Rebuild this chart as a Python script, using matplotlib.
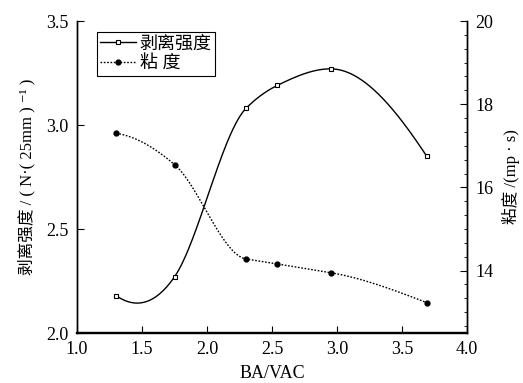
import numpy as np
import matplotlib
matplotlib.use("Agg")
import matplotlib.pyplot as plt
from matplotlib.ticker import MultipleLocator
from matplotlib.lines import Line2D

# ---- data ----
ratio = [1.30, 1.75, 2.30, 2.54, 2.95, 3.69]
peel_strength = [2.18, 2.27, 3.08, 3.19, 3.27, 2.85]
viscosity = [17.30, 16.55, 14.28, 14.16, 13.95, 13.23]
x_ticks = [1.0, 1.5, 2.0, 2.5, 3.0, 3.5, 4.0]
left_ticks = [2.0, 2.5, 3.0, 3.5]
right_ticks = [14, 16, 18, 20]

FONT = ['Liberation Serif', 'Noto Sans CJK SC', 'DejaVu Serif']
plt.rcParams['font.family'] = FONT
plt.rcParams['axes.unicode_minus'] = False


def akima(x, y, n=400):
    x = np.asarray(x, float)
    y = np.asarray(y, float)
    k = len(x)
    h = np.diff(x)
    m = np.diff(y) / h
    # extend slopes at both ends
    mm = np.empty(k + 3)
    mm[2:k + 1] = m
    mm[1] = 2 * mm[2] - mm[3]
    mm[0] = 2 * mm[1] - mm[2]
    mm[k + 1] = 2 * mm[k] - mm[k - 1]
    mm[k + 2] = 2 * mm[k + 1] - mm[k]
    t = np.empty(k)
    for i in range(k):
        w1 = abs(mm[i + 3] - mm[i + 2])
        w2 = abs(mm[i + 1] - mm[i])
        if w1 + w2 == 0:
            t[i] = 0.5 * (mm[i + 1] + mm[i + 2])
        else:
            t[i] = (w1 * mm[i + 1] + w2 * mm[i + 2]) / (w1 + w2)
    xs = np.linspace(x[0], x[-1], n)
    ys = np.empty_like(xs)
    for j, xv in enumerate(xs):
        i = int(np.clip(np.searchsorted(x, xv, side='right') - 1, 0, k - 2))
        hh = h[i]
        s = (xv - x[i]) / hh
        h00 = 2 * s ** 3 - 3 * s ** 2 + 1
        h10 = s ** 3 - 2 * s ** 2 + s
        h01 = -2 * s ** 3 + 3 * s ** 2
        h11 = s ** 3 - s ** 2
        ys[j] = h00 * y[i] + h10 * hh * t[i] + h01 * y[i + 1] + h11 * hh * t[i + 1]
    return xs, ys


fig = plt.figure(figsize=(5.23, 3.83), dpi=100)
ax = fig.add_axes([77 / 523, 1 - 333 / 383, 390 / 523, 312 / 383])
ax2 = ax.twinx()

# peel strength
xs, ys = akima(ratio, peel_strength)
ax.plot(xs, ys, color='black', lw=1.0, ls='-')
ax.plot(ratio, peel_strength, ls='none', marker='s', ms=3.5, mfc='white',
        mec='black', mew=0.8)

# viscosity
xs2, ys2 = akima(ratio, viscosity)
ax2.plot(xs2, ys2, color='black', lw=1.0, ls=(0, (1.2, 1.2)))
ax2.plot(ratio, viscosity, ls='none', marker='o', ms=3.5, mfc='black',
         mec='black')

ax.set_xlim(1.0, 4.0)
ax.set_ylim(2.0, 3.5)
ax2.set_ylim(12.5, 20.0)
ax.set_xticks(x_ticks)
ax.set_yticks(left_ticks)
ax2.set_yticks(right_ticks)
ax2.yaxis.set_minor_locator(MultipleLocator(1 / 3))

for a in (ax, ax2):
    a.spines['top'].set_visible(False)
    for s in a.spines.values():
        s.set_linewidth(1.0)
ax.spines['bottom'].set_linewidth(1.6)
ax2.spines['bottom'].set_linewidth(1.6)

ax.tick_params(axis='both', direction='in', length=5, width=0.8,
               labelsize=13, pad=6)
ax.tick_params(axis='y', right=False)
ax2.tick_params(axis='y', which='major', direction='in', length=5, width=0.8,
                labelsize=13, pad=6)
ax2.tick_params(axis='y', which='minor', direction='in', length=2.5, width=0.6)

ax.set_xlabel('BA/VAC', fontsize=13, labelpad=5)
ax.set_ylabel('剥离强度 / ( N·( 25mm ) ⁻¹ )', fontsize=12, labelpad=8)
ax2.set_ylabel('粘度 /(mp · s)', fontsize=12, labelpad=6)

h1 = Line2D([], [], color='black', lw=1.0, marker='s', ms=3.5, mfc='white',
            mec='black', mew=0.8)
h2 = Line2D([], [], color='black', lw=1.0, ls=(0, (1.2, 1.2)), marker='o',
            ms=3.5, mfc='black', mec='black')
leg = ax.legend([h1, h2], ['剥离强度', '粘 度'], loc='upper left',
                bbox_to_anchor=(0.05, 0.965), fontsize=13, frameon=True,
                fancybox=False, edgecolor='black', framealpha=1,
                handlelength=2.0, handletextpad=0.2, borderpad=0.2,
                labelspacing=0.15, borderaxespad=0, numpoints=1)
leg.get_frame().set_linewidth(0.8)

fig.savefig('out.png', dpi=100)
